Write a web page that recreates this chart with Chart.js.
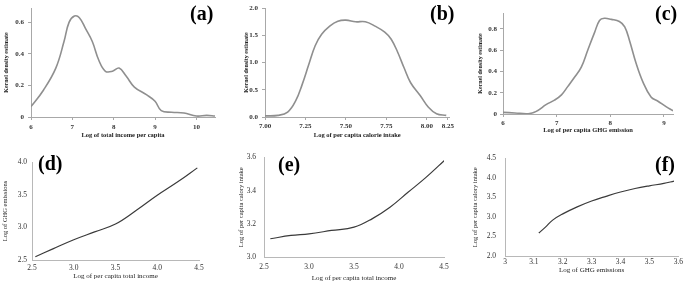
<!DOCTYPE html>
<html>
<head>
<meta charset="utf-8">
<title>Kernel density estimates and fitted curves</title>
<script src="https://cdn.jsdelivr.net/npm/chart.js"></script>
<style>
  body { margin: 0; background: #fff; }
  #wrap { position: relative; width: 685px; height: 288px; overflow: hidden; background: #fff; }
  canvas { position: absolute; }
  .tag { position: absolute; font: bold 20px 'Liberation Serif', serif; line-height: 20px; color: #000; }
</style>
</head>
<body>
<div id="wrap">
  <canvas id="ca"></canvas>
  <canvas id="cb"></canvas>
  <canvas id="cc"></canvas>
  <canvas id="cd"></canvas>
  <canvas id="ce"></canvas>
  <canvas id="cf"></canvas>
  <div class="tag" style="left:190px;top:3px">(a)</div>
  <div class="tag" style="left:430px;top:3px">(b)</div>
  <div class="tag" style="left:655px;top:3px">(c)</div>
  <div class="tag" style="left:38px;top:153px">(d)</div>
  <div class="tag" style="left:278px;top:154px">(e)</div>
  <div class="tag" style="left:655px;top:154px">(f)</div>
</div>

<script>
// (a) density of log total income per capita
var aX = [6.0, 6.3, 6.6, 6.8, 6.92, 7.05, 7.17, 7.32, 7.48, 7.64, 7.8, 7.97, 8.13, 8.3, 8.5, 8.8, 9.0, 9.15, 9.4, 9.7, 10.0, 10.25, 10.45];
var aY = [0.066, 0.17, 0.31, 0.48, 0.60, 0.64, 0.63, 0.56, 0.48, 0.36, 0.29, 0.29, 0.31, 0.26, 0.19, 0.14, 0.10, 0.04, 0.03, 0.025, 0.006, 0.01, 0.006];
var aXTicks = [6, 7, 8, 9, 10];
var aXLabels = ['6', '7', '8', '9', '10'];
var aYTicks = [0, 0.2, 0.4, 0.6];
var aYLabels = ['0', '0.2', '0.4', '0.6'];

// (b) density of log per capita calorie intake
var bX = [7.0, 7.08, 7.14, 7.19, 7.23, 7.27, 7.31, 7.35, 7.4, 7.45, 7.5, 7.56, 7.62, 7.68, 7.74, 7.78, 7.82, 7.86, 7.9, 7.96, 8.01, 8.06, 8.12];
var bY = [0.02, 0.03, 0.09, 0.3, 0.6, 0.96, 1.31, 1.52, 1.67, 1.76, 1.78, 1.75, 1.75, 1.67, 1.56, 1.43, 1.19, 0.9, 0.63, 0.39, 0.18, 0.06, 0.03];
var bXTicks = [7, 7.25, 7.5, 7.75, 8, 8.13];
var bXLabels = ['7.00', '7.25', '7.50', '7.75', '8.00', '8.25'];
var bYTicks = [0, 0.5, 1, 1.5, 2];
var bYLabels = ['0.0', '0.5', '1.0', '1.5', '2.0'];

// (c) density of log per capita GHG emission
var cX = [6.0, 6.22, 6.47, 6.62, 6.81, 6.96, 7.09, 7.21, 7.34, 7.46, 7.58, 7.71, 7.8, 7.89, 8.02, 8.17, 8.27, 8.36, 8.48, 8.61, 8.76, 8.89, 9.04, 9.17];
var cY = [0.015, 0.01, 0.003, 0.025, 0.09, 0.13, 0.18, 0.26, 0.35, 0.44, 0.6, 0.77, 0.88, 0.9, 0.89, 0.87, 0.82, 0.69, 0.48, 0.3, 0.16, 0.12, 0.07, 0.03];
var cXTicks = [6, 7, 8, 9];
var cXLabels = ['6', '7', '8', '9'];
var cYTicks = [0, 0.2, 0.4, 0.6, 0.8];
var cYLabels = ['0', '0.2', '0.4', '0.6', '0.8'];

// (d) GHG emissions vs income
var dX = [2.54, 2.75, 3.0, 3.25, 3.5, 3.75, 4.0, 4.25, 4.48];
var dY = [2.55, 2.67, 2.81, 2.93, 3.05, 3.26, 3.49, 3.70, 3.91];
var dXTicks = [2.5, 3, 3.5, 4, 4.5];
var dXLabels = ['2.5', '3.0', '3.5', '4.0', '4.5'];
var dYTicks = [2.5, 3, 3.5, 4];
var dYLabels = ['2.5', '3.0', '3.5', '4.0'];

// (e) calory intake vs income
var eX = [2.57, 2.8, 3.0, 3.25, 3.5, 3.7, 3.9, 4.1, 4.3, 4.52];
var eY = [3.11, 3.13, 3.14, 3.16, 3.18, 3.23, 3.30, 3.39, 3.48, 3.59];
var eXTicks = [2.5, 3, 3.5, 4, 4.5];
var eXLabels = ['2.5', '3.0', '3.5', '4.0', '4.5'];
var eYTicks = [3.0, 3.2, 3.4, 3.6];
var eYLabels = ['3.0', '3.2', '3.4', '3.6'];

// (f) calory intake vs GHG emissions
var fX = [3.117, 3.14, 3.165, 3.2, 3.25, 3.3, 3.35, 3.4, 3.45, 3.5, 3.55, 3.585];
var fY = [2.59, 2.74, 2.92, 3.08, 3.26, 3.41, 3.53, 3.64, 3.73, 3.80, 3.86, 3.92];
var fXTicks = [3, 3.1, 3.2, 3.3, 3.4, 3.5, 3.6];
var fXLabels = ['3', '3.1', '3.2', '3.3', '3.4', '3.5', '3.6'];
var fYTicks = [2, 2.5, 3, 3.5, 4, 4.5];
var fYLabels = ['2.0', '2.5', '3.0', '3.5', '4.0', '4.5'];

Chart.defaults.font.family = "'Liberation Serif', 'Times New Roman', serif";

var topRow = {
  lineColor: '#8f8f8f', lineWidth: 1.6, axisColor: '#a8a8a8', marks: true,
  tickFont: { size: 7, weight: 'bold' }, titleFont: { size: 6.5, weight: 'bold' }, yTitleFont: { size: 6, weight: 'bold' }
};
var bottomRow = {
  lineColor: '#3a3a3a', lineWidth: 1.2, axisColor: '#b8b8b8', marks: false,
  tickFont: { size: 7.5 }, titleFont: { size: 7 }, yTitleFont: { size: 6.5 }
};

// box = canvas [left, top, w, h], area = plot area [left, top, right, bottom], all in page px
function panel(id, box, area, o, st) {
  var cv = document.getElementById(id);
  cv.width = box[2]; cv.height = box[3];
  cv.style.left = box[0] + 'px'; cv.style.top = box[1] + 'px';
  var yEdge = o.yTitleX - st.yTitleFont.size * 1.2 / 2;
  var xEdge = o.xTitleY + st.titleFont.size * 1.2 / 2;
  var grid = st.marks
    ? { drawOnChartArea: false, drawTicks: true, tickLength: 3, color: st.axisColor }
    : { display: false, drawTicks: false, tickLength: 0 };

  return new Chart(cv, {
    type: 'line',
    data: {
      datasets: [{
        data: o.xs.map(function (x, i) { return { x: x, y: o.ys[i] }; }),
        borderColor: st.lineColor,
        borderWidth: st.lineWidth,
        pointRadius: 0,
        tension: 0.4,
        fill: false
      }]
    },
    options: {
      responsive: false,
      animation: false,
      layout: {
        autoPadding: false,
        padding: {
          left: yEdge - box[0],
          top: area[1] - box[1],
          right: box[0] + box[2] - area[2],
          bottom: box[1] + box[3] - xEdge
        }
      },
      plugins: { legend: { display: false }, tooltip: { enabled: false } },
      scales: {
        x: {
          type: 'linear', min: o.xMin, max: o.xMax,
          afterBuildTicks: function (s) { s.ticks = o.xTicks.map(function (v) { return { value: v }; }); },
          afterFit: function (s) { s.height = xEdge - area[3]; },
          ticks: { callback: function (v, i) { return o.xLabels[i]; }, font: st.tickFont, color: '#333', padding: o.xPad, maxRotation: 0, autoSkip: false },
          grid: grid,
          border: { display: true, color: st.axisColor, width: 1 },
          title: { display: true, text: o.xTitle, font: st.titleFont, color: '#222', padding: 0 }
        },
        y: {
          type: 'linear', min: o.yMin, max: o.yMax,
          afterBuildTicks: function (s) { s.ticks = o.yTicks.map(function (v) { return { value: v }; }); },
          afterFit: function (s) { s.width = area[0] - yEdge; },
          ticks: { callback: function (v, i) { return o.yLabels[i]; }, font: st.tickFont, color: '#333', padding: o.yPad, autoSkip: false },
          grid: grid,
          border: { display: true, color: st.axisColor, width: 1 },
          title: { display: true, text: o.yTitle, font: st.yTitleFont, color: '#222', padding: 0 }
        }
      }
    }
  });
}

panel('ca', [0, 0, 228, 145], [31, 7, 215, 117], {
  xs: aX, ys: aY, xMin: 6, xMax: 10.45, yMin: 0, yMax: 0.69,
  xTicks: aXTicks, xLabels: aXLabels, yTicks: aYTicks, yLabels: aYLabels,
  xTitle: 'Log of total income per capita', yTitle: 'Kernel density estimate',
  yTitleX: 6, xTitleY: 135, xPad: 3, yPad: 4
}, topRow);

panel('cb', [228, 0, 228, 145], [265, 5, 453, 117], {
  xs: bX, ys: bY, xMin: 7, xMax: 8.14, yMin: 0, yMax: 2,
  xTicks: bXTicks, xLabels: bXLabels, yTicks: bYTicks, yLabels: bYLabels,
  xTitle: 'Log of per capita calorie intake', yTitle: 'Kernel density estimate',
  yTitleX: 246, xTitleY: 135, xPad: 2, yPad: 4
}, topRow);

panel('cc', [457, 0, 228, 145], [503, 13, 673, 114], {
  xs: cX, ys: cY, xMin: 6, xMax: 9.17, yMin: 0, yMax: 0.95,
  xTicks: cXTicks, xLabels: cXLabels, yTicks: cYTicks, yLabels: cYLabels,
  xTitle: 'Log of per capita GHG emission', yTitle: 'Kernel density estimate',
  yTitleX: 480, xTitleY: 130, xPad: 2, yPad: 3
}, topRow);

panel('cd', [0, 145, 228, 143], [32, 162, 199, 260], {
  xs: dX, ys: dY, xMin: 2.5, xMax: 4.5, yMin: 2.5, yMax: 4.0,
  xTicks: dXTicks, xLabels: dXLabels, yTicks: dYTicks, yLabels: dYLabels,
  xTitle: 'Log of per capita total income', yTitle: 'Log of GHG emissions',
  yTitleX: 5, xTitleY: 276, xPad: 4, yPad: 5
}, bottomRow);

panel('ce', [228, 145, 228, 143], [264, 153, 444, 257], {
  xs: eX, ys: eY, xMin: 2.5, xMax: 4.5, yMin: 3.0, yMax: 3.6,
  xTicks: eXTicks, xLabels: eXLabels, yTicks: eYTicks, yLabels: eYLabels,
  xTitle: 'Log of per capita total income', yTitle: 'Log of per capita calory intake',
  yTitleX: 241, xTitleY: 278, xPad: 6, yPad: 8
}, bottomRow);

panel('cf', [457, 145, 228, 143], [505, 153, 679, 256], {
  xs: fX, ys: fY, xMin: 3, xMax: 3.6, yMin: 2, yMax: 4.5,
  xTicks: fXTicks, xLabels: fXLabels, yTicks: fYTicks, yLabels: fYLabels,
  xTitle: 'Log of GHG emissions', yTitle: 'Log of per capita calory intake',
  yTitleX: 475, xTitleY: 270, xPad: 2, yPad: 9
}, bottomRow);
</script>
</body>
</html>
